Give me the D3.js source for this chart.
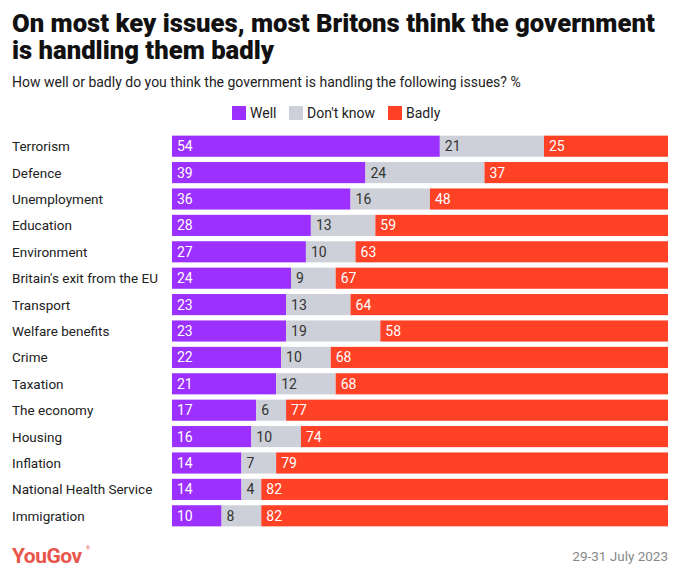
<!DOCTYPE html>
<html><head><meta charset="utf-8">
<script src="https://cdn.jsdelivr.net/npm/d3@7"></script>
<style>body{margin:0;background:#fff;} svg{display:block;font-family:Roboto,"Noto Sans",sans-serif;}</style>
</head><body>
<script>
const categories = ["Terrorism","Defence","Unemployment","Education","Environment","Britain's exit from the EU","Transport","Welfare benefits","Crime","Taxation","The economy","Housing","Inflation","National Health Service","Immigration"];
const well = [54,39,36,28,27,24,23,23,22,21,17,16,14,14,10];
const dontKnow = [21,24,16,13,10,9,13,19,10,12,6,10,7,4,8];
const badly = [25,37,48,59,63,67,64,58,68,68,77,74,79,82,82];
const seriesNames = ["Well","Don't know","Badly"];
const colors = ["#9b30ff","#cdd0d8","#ff4126"];
const textColors = ["#ffffff","#333333","#ffffff"];

const W=680,H=580;
const svg=d3.select("body").append("svg").attr("width",W).attr("height",H);
const t1=svg.append("text").attr("x",12).attr("y",32).attr("font-size",26).attr("font-weight",900).attr("fill","#111").text("On most key issues, most Britons think the government");
const t2=svg.append("text").attr("x",12).attr("y",59).attr("font-size",26).attr("font-weight",900).attr("fill","#111").text("is handling them badly");
const len=t1.node().getComputedTextLength();
const fs=Math.min(27,26*643/len);
t1.attr("font-size",fs); t2.attr("font-size",fs);
svg.append("text").attr("x",12).attr("y",87).attr("font-size",14).attr("fill","#222").text("How well or badly do you think the government is handling the following issues? %");

// legend
const leg=svg.append("g");
const legItems=[{x:232,n:0},{x:289,n:1},{x:388,n:2}];
legItems.forEach(d=>{
  leg.append("rect").attr("x",d.x).attr("y",106).attr("width",14).attr("height",14).attr("fill",colors[d.n]);
  leg.append("text").attr("x",d.x+18).attr("y",118).attr("font-size",14).attr("fill","#222").text(seriesNames[d.n]);
});

const x=d3.scaleLinear().domain([0,100]).range([172,668]).clamp(true);
const y=d3.scaleBand().domain(categories).range([133,529]).paddingInner(0.2).paddingOuter(0.1);

const rows=categories.map((c,i)=>{const v=[well[i],dontKnow[i],badly[i]];let s=0;return v.map((val,k)=>{const r={c,k,val,x0:s,x1:s+val};s+=val;return r;});});
const g=svg.append("g");
rows.forEach(r=>r.forEach(d=>{
  g.append("rect").attr("x",x(d.x0)).attr("y",y(d.c)).attr("width",x(d.x1)-x(d.x0)).attr("height",y.bandwidth()).attr("fill",colors[d.k]);
  g.append("text").attr("x",x(d.x0)+5).attr("y",y(d.c)+y.bandwidth()/2+5).attr("font-size",14).attr("fill",textColors[d.k]).text(d.val);
}));
categories.forEach(c=>{
  svg.append("text").attr("x",12).attr("y",y(c)+y.bandwidth()/2+5).attr("font-size",13.5).attr("fill","#222").text(c);
});

svg.append("text").attr("x",12).attr("y",563).attr("font-size",21).attr("font-weight",700).attr("fill","#e8564b").attr("letter-spacing",-0.5).text("YouGov");
svg.append("text").attr("x",86).attr("y",550).attr("font-size",5).attr("fill","#e8564b").text("®");
svg.append("text").attr("x",668).attr("y",561).attr("text-anchor","end").attr("font-size",13.5).attr("fill","#888").text("29-31 July 2023");
</script>
</body></html>
